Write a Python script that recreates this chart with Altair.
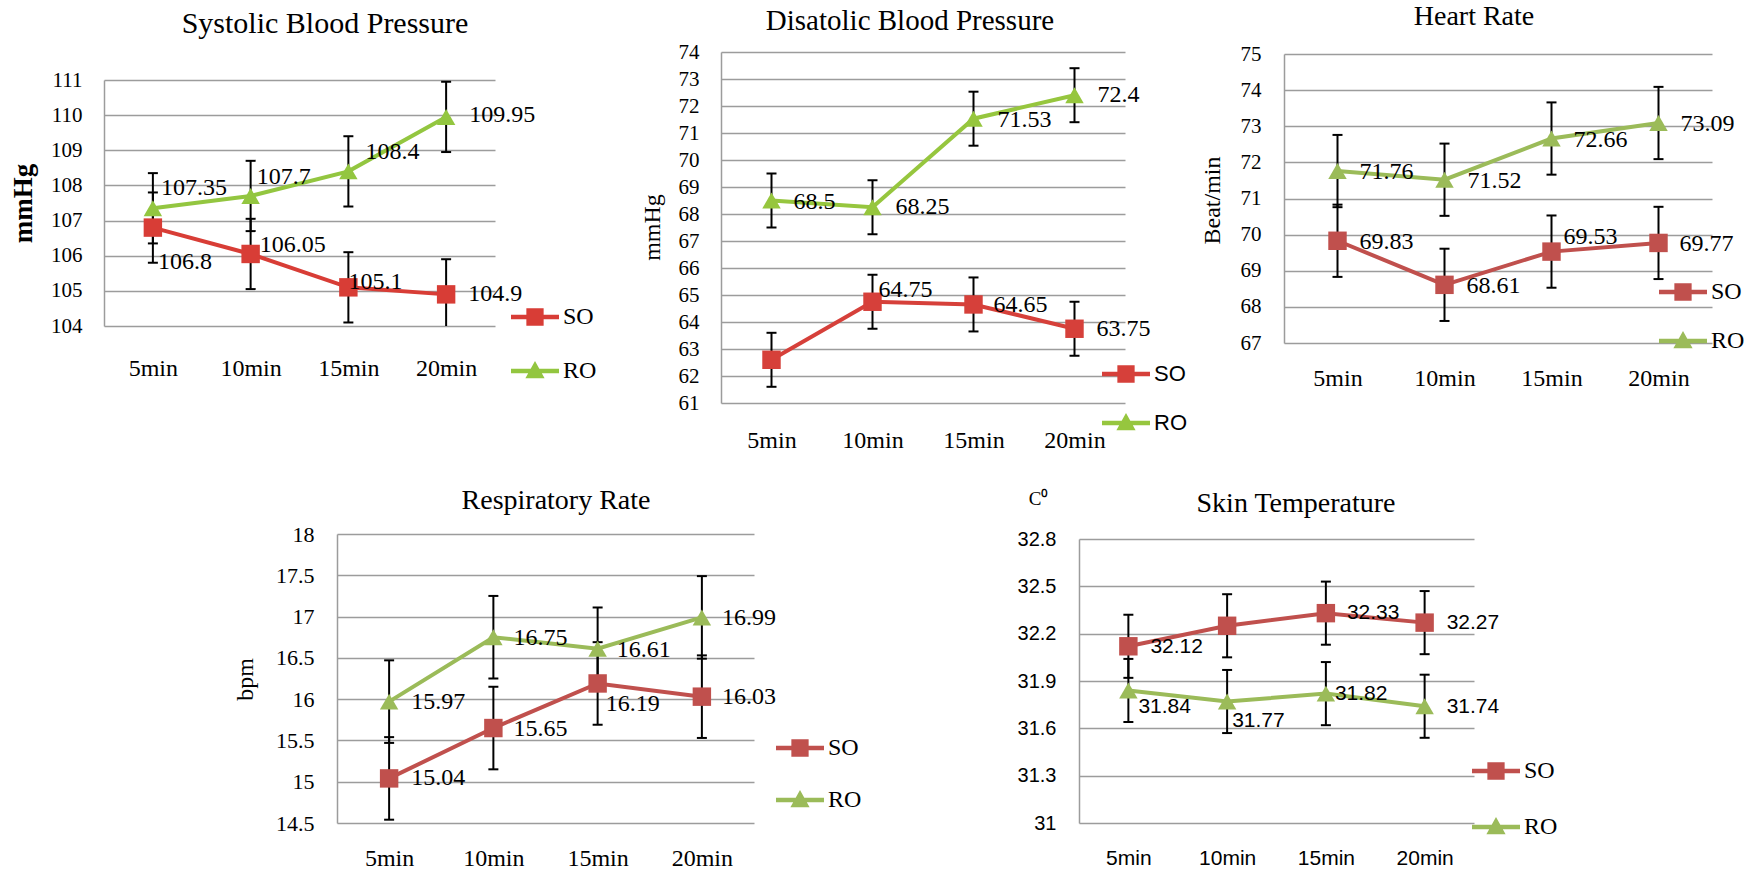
import altair as alt
import pandas as pd

# ---------------- data ----------------
times = ["5min", "10min", "15min", "20min"]
groups = ["SO", "RO"]

sbp_so = [106.8, 106.05, 105.1, 104.9]
sbp_ro = [107.35, 107.7, 108.4, 109.95]
sbp_err = 1.0
sbp_ticks = [104, 105, 106, 107, 108, 109, 110, 111]

dbp_so = [62.6, 64.75, 64.65, 63.75]
dbp_ro = [68.5, 68.25, 71.53, 72.4]
dbp_err = 1.0
dbp_ticks = [61, 62, 63, 64, 65, 66, 67, 68, 69, 70, 71, 72, 73, 74]

hr_so = [69.83, 68.61, 69.53, 69.77]
hr_ro = [71.76, 71.52, 72.66, 73.09]
hr_err = 1.0
hr_ticks = [67, 68, 69, 70, 71, 72, 73, 74, 75]

rr_so = [15.04, 15.65, 16.19, 16.03]
rr_ro = [15.97, 16.75, 16.61, 16.99]
rr_err = 0.5
rr_ticks = [14.5, 15, 15.5, 16, 16.5, 17, 17.5, 18]

st_so = [32.12, 32.25, 32.33, 32.27]
st_ro = [31.84, 31.77, 31.82, 31.74]
st_err = 0.2
st_ticks = [31, 31.3, 31.6, 31.9, 32.2, 32.5, 32.8]

all_shown = [True, True, True, True]
dbp_so_shown = [False, True, True, True]
st_so_shown = [True, False, True, True]

# ---------------- style ----------------
W, H = 1758, 872
SERIF = "Liberation Serif"
SANS = "Liberation Sans"
GRID = "#9C9C9C"
SO_PATH = "M-1,-0.09H1V0.09H-1Z M-0.36,-0.36H0.36V0.36H-0.36Z"
RO_PATH = "M-1,-0.09H1V0.09H-1Z M0,-0.42L0.4,0.3H-0.4Z"

panels = [
    dict(so=sbp_so, ro=sbp_ro, err=sbp_err, ticks=sbp_ticks, so_shown=all_shown, ro_shown=all_shown,
         box=(104, 80, 495, 326), title="Systolic Blood Pressure", tpos=(325, 24), tsize=30,
         ytitle="mmHg", ytpos=(23, 203), ytsize=27, ytweight="bold", ytangle=270,
         tfont=SERIF, ticksize=21, tpad=22, xfont=SERIF, xsize=24, xpad=42, dfont=SERIF, dsize=24,
         so_off=[(5, 34), (9, -9), (0, -5), (22, 0)], ro_off=[(8, -20), (6, -19), (17, -19), (23, -2)],
         leg=(535, 317), rowpad=18, lfont=SERIF, lsize=24, colors=["#D83D36", "#93C640"]),
    dict(so=dbp_so, ro=dbp_ro, err=dbp_err, ticks=dbp_ticks, so_shown=dbp_so_shown, ro_shown=all_shown,
         box=(721, 52, 1125, 403), title="Disatolic Blood Pressure", tpos=(910, 21), tsize=29,
         ytitle="mmHg", ytpos=(652, 227), ytsize=24, ytweight="normal", ytangle=270,
         tfont=SERIF, ticksize=21, tpad=22, xfont=SERIF, xsize=24, xpad=37, dfont=SERIF, dsize=24,
         so_off=[(0, 0), (6, -12), (20, 1), (22, 0)], ro_off=[(22, 1), (23, 0), (24, 1), (23, 0)],
         leg=(1126, 374), rowpad=14, lfont=SANS, lsize=22, colors=["#D6403A", "#96C63E"]),
    dict(so=hr_so, ro=hr_ro, err=hr_err, ticks=hr_ticks, so_shown=all_shown, ro_shown=all_shown,
         box=(1284, 54, 1712, 343), title="Heart Rate", tpos=(1474, 17), tsize=28,
         ytitle="Beat/min", ytpos=(1212, 200), ytsize=24, ytweight="normal", ytangle=270,
         tfont=SERIF, ticksize=21, tpad=23, xfont=SERIF, xsize=24, xpad=35, dfont=SERIF, dsize=24,
         so_off=[(22, 1), (22, 1), (12, -15), (21, 1)], ro_off=[(22, 1), (23, 1), (22, 1), (22, 1)],
         leg=(1683, 292), rowpad=13, lfont=SERIF, lsize=24, colors=["#C0504D", "#9BBB59"]),
    dict(so=rr_so, ro=rr_ro, err=rr_err, ticks=rr_ticks, so_shown=all_shown, ro_shown=all_shown,
         box=(337, 534, 754, 823), title="Respiratory Rate", tpos=(556, 501), tsize=28,
         ytitle="bpm", ytpos=(245, 679), ytsize=24, ytweight="normal", ytangle=270,
         tfont=SERIF, ticksize=22, tpad=23, xfont=SERIF, xsize=24, xpad=35, dfont=SERIF, dsize=24,
         so_off=[(22, 0), (20, 1), (8, 21), (20, 0)], ro_off=[(22, 0), (20, 1), (19, 1), (20, 1)],
         leg=(800, 748), rowpad=16, lfont=SERIF, lsize=24, colors=["#C0504D", "#9BBB59"]),
    dict(so=st_so, ro=st_ro, err=st_err, ticks=st_ticks, so_shown=st_so_shown, ro_shown=all_shown,
         box=(1079, 539, 1474, 823), title="Skin Temperature", tpos=(1296, 504), tsize=28,
         ytitle="C\u2070", ytpos=(1038, 498), ytsize=19, ytweight="normal", ytangle=0,
         tfont=SANS, ticksize=20, tpad=23, xfont=SANS, xsize=21, xpad=35, dfont=SANS, dsize=21,
         so_off=[(22, 1), (0, 0), (21, 0), (22, 0)], ro_off=[(10, 17), (5, 19), (9, 0), (22, 1)],
         leg=(1496, 771), rowpad=20, lfont=SERIF, lsize=24, colors=["#C0504D", "#9BBB59"]),
]


def build(p):
    rows = []
    for g, vals, shown in (("SO", p["so"], p["so_shown"]), ("RO", p["ro"], p["ro_shown"])):
        for i, (t, v, sh) in enumerate(zip(times, vals, shown)):
            rows.append({"time": t, "idx": i, "series": g, "value": v,
                         "lo": round(v - p["err"], 4), "hi": round(v + p["err"], 4),
                         "label": f"{v:g}" if sh else ""})
    df = pd.DataFrame(rows)
    L, T, R, B = p["box"]
    ymin = p["ticks"][0]
    ymax = p["ticks"][-1]
    xs = alt.Scale(type="point", domain=times, range=[L, R], padding=0.5)
    ys = alt.Scale(domain=[ymin, ymax], range=[B, T], zero=False, nice=False, clamp=True)
    cs = alt.Scale(domain=groups, range=p["colors"])

    x_axis = alt.Axis(orient="bottom", offset=B - H, domain=False, ticks=False, tickSize=0, grid=False,
                      labelAngle=0, labelFont=p["xfont"], labelFontSize=p["xsize"], labelColor="black",
                      labelFontWeight="normal",
                      labelPadding=p["xpad"], labelBaseline="middle", labelOverlap=False, title=None)
    y_axis = alt.Axis(orient="left", offset=-L, values=p["ticks"], format="~g", grid=True,
                      gridColor=GRID, gridWidth=1.5, domain=True, domainColor=GRID, domainWidth=1.5,
                      ticks=False, tickSize=0, labelFont=p["tfont"], labelFontSize=p["ticksize"],
                      labelFontWeight="normal",
                      labelColor="black", labelPadding=p["tpad"], labelOverlap=False,
                      title=p["ytitle"], titleFont=SERIF, titleFontSize=p["ytsize"],
                      titleFontWeight=p["ytweight"], titleColor="black",
                      titleX=p["ytpos"][0] - L, titleY=p["ytpos"][1], titleAngle=p["ytangle"],
                      titleAlign="center", titleBaseline="middle")

    Xa = alt.X("time:N", scale=xs, axis=x_axis)
    Xn = alt.X("time:N", scale=xs, axis=None)
    Ya = alt.Y("value:Q", scale=ys, axis=y_axis)
    Yn = alt.Y("value:Q", scale=ys, axis=None)
    Cn = alt.Color("series:N", scale=cs, legend=None)

    base = alt.Chart(df)
    layers = []
    layers.append(base.mark_line(strokeWidth=4).encode(x=Xa, y=Ya, color=Cn, order=alt.Order("idx:Q")))
    layers.append(base.mark_rule(strokeWidth=2, color="black").encode(
        x=Xn, y=alt.Y("lo:Q", scale=ys, axis=None), y2="hi:Q"))
    layers.append(base.transform_filter(f"datum.lo >= {ymin}").mark_tick(
        size=10, thickness=2, color="black", opacity=1).encode(x=Xn, y=alt.Y("lo:Q", scale=ys, axis=None)))
    layers.append(base.transform_filter(f"datum.hi <= {ymax}").mark_tick(
        size=10, thickness=2, color="black", opacity=1).encode(x=Xn, y=alt.Y("hi:Q", scale=ys, axis=None)))
    layers.append(base.mark_point(filled=True, size=340, opacity=1).encode(
        x=Xn, y=Yn, color=Cn,
        shape=alt.condition(alt.datum.series == "SO", alt.value("square"), alt.value("triangle-up"))))

    for g, shown, offs in (("SO", p["so_shown"], p["so_off"]), ("RO", p["ro_shown"], p["ro_off"])):
        for t, sh, (dx, dy) in zip(times, shown, offs):
            if not sh:
                continue
            layers.append(base.transform_filter(
                f"datum.series == '{g}' && datum.time == '{t}'").mark_text(
                align="left", baseline="middle", dx=dx, dy=dy, font=p["dfont"],
                fontSize=p["dsize"], color="black").encode(x=Xn, y=Yn, text="label:N"))

    layers.append(alt.Chart(alt.Data(values=[{"t": p["title"]}])).mark_text(
        font=SERIF, fontSize=p["tsize"], color="black", align="center", baseline="middle").encode(
        x=alt.value(p["tpos"][0]), y=alt.value(p["tpos"][1]), text="t:N"))

    leg = alt.Legend(orient="none", legendX=p["leg"][0] - 24, legendY=p["leg"][1] - 24,
                     direction="vertical", title=None, symbolSize=2304, symbolStrokeWidth=0,
                     symbolOpacity=1, labelFont=p["lfont"], labelFontSize=p["lsize"],
                     labelFontWeight="normal",
                     labelColor="black", labelOffset=4, rowPadding=p["rowpad"], padding=0,
                     labelLimit=0)
    layers.append(base.transform_filter("false").mark_point(filled=True, opacity=1).encode(
        x=Xn, y=Yn,
        color=alt.Color("series:N", scale=cs, legend=leg),
        shape=alt.Shape("series:N", scale=alt.Scale(domain=groups, range=[SO_PATH, RO_PATH]), legend=leg)))
    return layers


all_layers = []
for p in panels:
    all_layers.extend(build(p))

chart = alt.layer(*all_layers).resolve_scale(
    x="independent", y="independent", color="independent", shape="independent"
).properties(width=W, height=H, autosize="none", padding=0).configure(
    background="white", font=SERIF
).configure_view(stroke=None)

chart.save("out.html", embed_options={"renderer": "svg", "actions": False})
